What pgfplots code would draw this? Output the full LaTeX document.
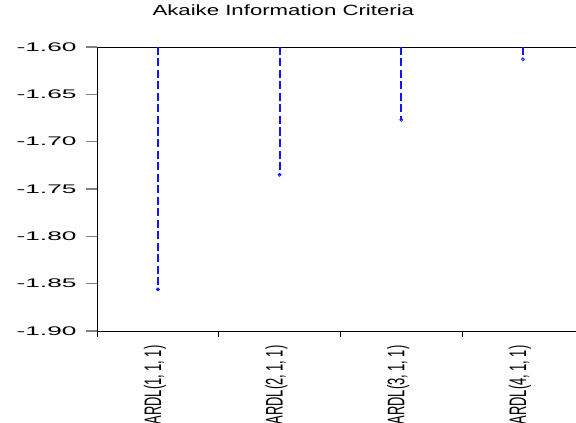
\documentclass[border=0pt]{standalone}
\usepackage{fontspec}
\setmainfont{Liberation Sans}
\usepackage{pgfplots}
\pgfplotsset{compat=1.18}
% the reference glyphs are stretched sideways
\newcommand\yl[1]{\scalebox{2.1}[1]{#1}}
\newcommand\xl[1]{\scalebox{1}[1.85]{#1}}
\pgfplotsset{stem/.style={ycomb, color={rgb,255:red,20;green,20;blue,255}, line width=2pt,
  dash pattern=on 8pt off 3.5pt,
  mark=o, mark size=1.5pt, mark options={solid, line width=0.8pt}}}
\begin{document}
\begin{tikzpicture}
\useasboundingbox (0,0) rectangle (576pt,423pt);
\begin{axis}[
  at={(97pt,92pt)}, anchor=south west,
  scale only axis, width=479pt, height=284pt,
  xmin=0.5, xmax=4.436,
  ymin=-1.90, ymax=-1.60,
  axis x line*=box, axis y line*=left,
  axis line style={black, line width=0.8pt},
  xtick={1,2,3,4},
  xticklabels={{\xl{ARDL(1, 1, 1)}},{\xl{ARDL(2, 1, 1)}},{\xl{ARDL(3, 1, 1)}},{\xl{ARDL(4, 1, 1)}}},
  minor xtick={0.5,1.5,2.5,3.5},
  ytick={-1.90,-1.85,-1.80,-1.75,-1.70,-1.65,-1.60},
  yticklabels={\yl{-1.90},\yl{-1.85},\yl{-1.80},\yl{-1.75},\yl{-1.70},\yl{-1.65},\yl{-1.60}},
  xtick pos=bottom, ytick pos=left,
  tick align=outside,
  major tick length=11pt, minor tick length=6pt,
  major x tick style={draw=none},
  minor x tick style={black, line width=0.8pt},
  y tick style={gray, line width=1.2pt},
  yticklabel style={font=\fontsize{12.5}{14}\selectfont, anchor=east, xshift=-6pt},
  xticklabel style={font=\fontsize{12.9}{14}\selectfont, rotate=90, anchor=east, yshift=3pt},
  title={\scalebox{1.5}[1]{Akaike Information Criteria}},
  title style={font=\fontsize{14.8}{16}\selectfont, at={(0.389,1)}, anchor=base, yshift=25pt},
]
\addplot[stem] coordinates {(1,-1.856)};
\addplot[stem] coordinates {(2,-1.735)};
\addplot[stem] coordinates {(3,-1.677)};
\addplot[stem] coordinates {(4,-1.613)};
\end{axis}
\end{tikzpicture}
\end{document}
